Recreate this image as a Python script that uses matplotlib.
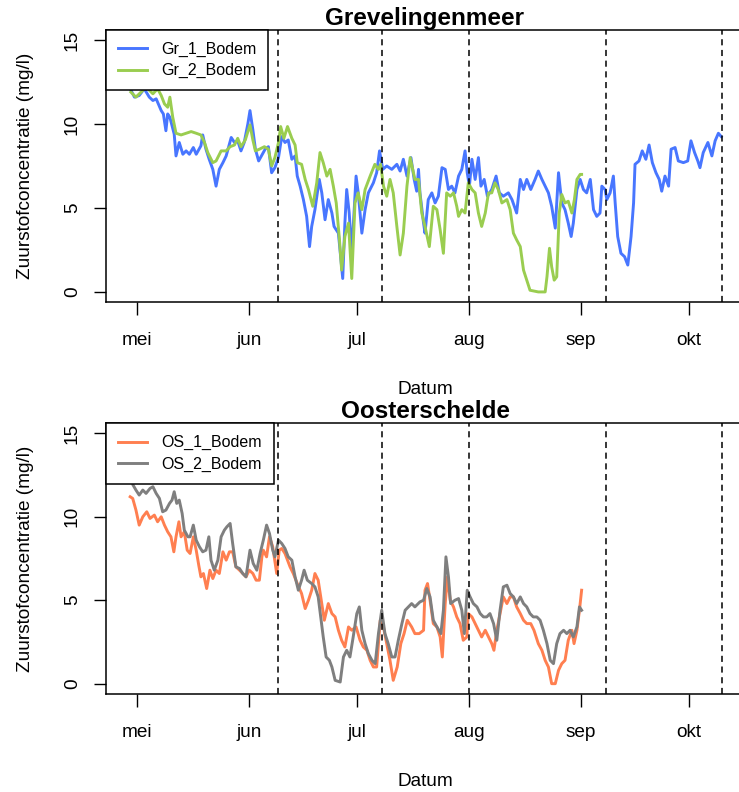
import numpy as np
import matplotlib
matplotlib.use("Agg")
import matplotlib.pyplot as plt

plt.rcParams['font.family'] = ['Liberation Sans', 'DejaVu Sans']

# dagen vanaf 1 mei, zuurstof in mg/l
start = np.datetime64("2021-05-01T00:00")

gr1_dag = [-1.9, -0.7, 0.6, 2.0, 3.4, 4.4, 5.3, 6.7, 7.3, 8.0, 8.5, 9.1, 10.3, 10.8, 11.7, 12.7,
           13.6, 14.5, 15.6, 16.4, 17.7, 18.2, 19.1, 20.0, 21.0, 21.9, 22.8, 23.8, 24.7, 26.1,
           27.0, 27.9, 28.8, 29.7, 30.7, 31.3, 32.1, 32.8, 33.7, 35.5, 36.4, 37.3, 38.2, 39.2,
           40.1, 41.0, 41.9, 42.9, 43.8, 44.4, 45.2, 46.1, 47.0, 47.8, 48.4, 49.3, 50.5, 51.2,
           52.1, 53.0, 54.0, 54.6, 55.8, 57.0, 57.6, 58.1, 58.8, 59.5, 60.7, 61.3, 62.3, 63.2,
           64.1, 65.5, 66.4, 67.2, 68.1, 69.2, 70.6, 72.0, 72.9, 73.8, 74.8, 75.9, 76.8, 77.5,
           78.0, 78.4, 79.4, 79.8, 80.7, 81.7, 82.6, 83.5, 84.5, 85.4, 86.3, 87.2, 88.1, 89.1,
           90.0, 90.9, 91.5, 92.1, 92.8, 93.7, 94.6, 95.3, 96.2, 97.1, 98.3, 99.5, 100.4, 101.5,
           102.9, 103.9, 105.2, 106.2, 107.1, 108.0, 109.1, 110.3, 111.2, 112.2, 113.1, 114.0,
           114.9, 115.9, 116.8, 117.7, 118.6, 119.5, 120.3, 120.9, 121.9, 122.8, 123.7, 124.6,
           125.6, 126.5, 127.4, 128.3, 128.8, 129.7, 130.2, 131.1, 132.0, 132.5, 133.2, 134.1,
           135.1, 136.0, 136.9, 137.6, 138.0, 139.1, 140.0, 141.0, 141.9, 142.8, 143.8, 144.7,
           145.4, 146.3, 147.3, 148.0, 149.1, 150.0, 151.4, 152.6, 153.5, 154.5, 155.4, 156.0,
           156.9, 158.2, 159.3, 160.2, 161.1, 161.9]
gr1_o2 = [12.1, 11.6, 11.7, 12.1, 11.6, 11.4, 11.5, 10.8, 10.6, 9.6, 10.6, 10.4, 9.4, 8.1, 8.9, 8.2,
          8.4, 8.2, 8.6, 8.2, 8.7, 9.35, 8.5, 7.9, 7.3, 6.3, 7.3, 7.7, 8.1, 9.2,
          8.9, 9.0, 8.4, 8.9, 10.0, 10.8, 9.65, 8.5, 7.8, 8.5, 8.65, 7.1, 7.4, 8.0,
          9.25, 8.9, 9.05, 7.9, 8.1, 6.9, 6.3, 5.5, 4.5, 2.7, 3.9, 4.9, 6.7, 5.9,
          4.3, 5.5, 4.7, 3.9, 3.5, 0.8, 4.1, 6.1, 4.7, 2.3, 6.9, 5.9, 3.5, 4.9,
          5.9, 6.5, 7.1, 8.4, 7.3, 7.5, 7.3, 7.6, 7.2, 7.9, 6.9, 8.0, 6.7, 6.0,
          7.3, 5.9, 4.1, 3.5, 5.5, 5.9, 5.3, 5.7, 7.4, 7.3, 6.1, 6.3, 5.9, 6.9,
          7.3, 8.4, 7.1, 6.3, 7.9, 6.7, 8.0, 6.3, 6.7, 5.7, 6.1, 6.9, 5.9, 5.7,
          5.9, 5.5, 4.7, 6.7, 6.1, 6.7, 6.1, 6.7, 7.2, 6.7, 6.3, 5.9,
          5.1, 3.8, 7.1, 5.3, 4.9, 4.1, 3.3, 4.1, 6.1, 6.7, 6.1, 5.9,
          6.7, 4.9, 4.5, 4.7, 6.3, 6.1, 5.5, 5.9, 6.9, 5.3, 3.3, 2.3,
          2.1, 1.6, 3.3, 5.3, 7.6, 7.8, 8.4, 7.9, 8.75, 7.7, 7.1, 6.7,
          6.0, 6.9, 6.3, 8.5, 8.6, 7.8, 7.7, 7.8, 9.0, 8.3, 7.8, 7.4,
          8.3, 8.9, 8.1, 9.0, 9.45, 9.25]

gr2_dag = [-1.7, -0.3, 1.1, 2.5, 4.4, 5.7, 6.7, 7.6, 8.5, 9.1, 9.9, 10.8, 12.2, 13.6, 15.0, 16.4,
           17.7, 18.7, 19.6, 21.0, 21.9, 23.3, 24.7, 25.8, 27.0, 27.9, 28.8, 30.0, 31.3, 32.1,
           32.8, 33.9, 35.3, 36.4, 37.3, 38.2, 39.2, 39.8, 40.7, 41.7, 42.9, 43.8, 44.4, 45.6,
           46.6, 47.5, 48.7, 49.8, 50.7, 51.6, 52.6, 53.5, 54.4, 55.2, 56.1, 56.7, 57.6, 58.6,
           59.5, 60.4, 61.3, 62.3, 63.2, 64.6, 65.9, 66.9, 67.5, 68.3, 69.2, 70.1, 71.0, 72.0,
           72.9, 73.8, 74.8, 75.7, 77.0, 78.0, 78.9, 79.8, 81.0, 82.1, 83.1, 84.0, 84.9, 85.8,
           86.8, 87.7, 88.6, 89.1, 90.0, 90.9, 91.8, 92.8, 93.7, 94.6, 95.5, 96.5, 97.4, 98.3,
           99.2, 100.1, 101.1, 102.5, 103.4, 104.3, 105.2, 106.2, 107.1, 108.0, 108.9, 111.2,
           113.1, 113.6, 114.3, 114.9, 115.6, 116.3, 117.0, 117.7, 118.6, 119.5, 120.5, 121.2,
           121.9, 122.8, 123.2]
gr2_o2 = [11.9, 11.6, 11.9, 12.2, 11.8, 12.1, 11.7, 11.2, 11.0, 11.6, 10.4, 9.45, 9.35, 9.45, 9.55, 9.45,
          9.35, 8.9, 8.3, 7.7, 7.8, 8.4, 8.4, 8.65, 8.75, 9.15, 8.65, 9.05, 9.95, 9.05,
          8.4, 8.5, 8.65, 8.5, 7.5, 8.0, 8.9, 9.85, 9.15, 9.85, 9.15, 8.75, 7.7, 7.6,
          6.7, 6.1, 5.1, 6.5, 8.3, 7.7, 6.9, 7.3, 6.3, 5.3, 3.1, 1.3, 3.3, 4.1,
          0.8, 5.3, 5.9, 4.9, 6.1, 6.9, 7.6, 7.3, 7.6, 6.3, 5.7, 6.7, 5.9, 3.9,
          2.2, 3.5, 6.3, 8.0, 6.7, 6.7, 4.7, 3.9, 2.7, 5.1, 4.9, 3.7, 2.3, 5.9,
          5.7, 5.9, 5.1, 4.5, 4.9, 4.7, 6.5, 6.1, 5.9, 4.7, 3.9, 4.7, 5.9, 5.9,
          6.5, 6.1, 5.3, 5.5, 4.9, 3.5, 3.1, 2.7, 1.3, 0.7, 0.1, 0.0,
          0.0, 0.9, 2.6, 1.5, 0.7, 0.9, 4.7, 5.8, 5.3, 5.4, 4.7, 5.5,
          6.7, 7.0, 7.0]

os1_dag = [-1.9, -1.2, -0.3, 0.6, 1.6, 2.7, 3.6, 4.8, 5.7, 6.7, 7.6, 8.5, 9.4, 10.2, 10.8, 11.6,
           12.2, 13.1, 13.9, 14.7, 15.6, 16.4, 17.1, 17.7, 18.4, 19.3, 20.2, 21.0, 21.9, 22.8,
           23.8, 24.7, 25.6, 26.5, 27.4, 28.4, 29.3, 30.2, 31.1, 32.1, 33.0, 33.9, 34.6, 35.0,
           35.9, 36.7, 37.6, 38.7, 39.4, 40.1, 41.0, 42.4, 43.3, 44.4, 45.6, 46.6, 47.5, 48.4,
           49.3, 50.2, 51.2, 51.9, 53.0, 54.0, 54.9, 55.8, 56.7, 57.6, 58.6, 59.5, 60.7, 61.8,
           62.7, 63.7, 64.6, 65.5, 66.4, 67.4, 68.1, 69.0, 70.1, 71.0, 72.1, 73.1, 74.0, 74.9,
           76.1, 77.0, 78.2, 79.4, 79.8, 80.5, 81.2, 82.1, 83.1, 84.0, 84.6, 85.4, 86.0, 86.8,
           87.7, 88.6, 89.5, 90.4, 91.4, 91.8, 92.8, 93.7, 94.6, 95.5, 96.5, 97.4, 98.3, 98.9,
           99.7, 100.6, 101.5, 102.5, 103.4, 104.3, 105.2, 106.2, 107.1, 108.0, 109.1, 110.0,
           111.2, 112.2, 113.1, 114.0, 114.9, 115.9, 116.8, 117.7, 118.6, 119.5, 120.5, 121.1,
           121.9, 122.6, 123.2]
os1_o2 = [11.2, 11.1, 10.4, 9.5, 10.0, 10.3, 9.9, 10.1, 9.7, 10.0, 9.5, 9.1, 8.8, 7.9, 8.8, 9.7,
          8.8, 9.1, 8.0, 7.8, 8.8, 8.0, 7.1, 6.4, 6.6, 5.7, 6.8, 6.3, 6.8, 6.6,
          7.9, 7.4, 7.9, 7.9, 7.0, 6.8, 6.6, 6.4, 6.8, 6.6, 6.2, 6.2, 7.6, 8.0,
          7.6, 8.8, 8.2, 6.6, 8.0, 8.1, 7.8, 7.0, 6.6, 6.0, 5.4, 4.5, 5.0, 5.6,
          6.6, 6.2, 4.8, 3.8, 4.8, 4.2, 4.0, 3.2, 2.6, 2.2, 3.4, 3.2, 3.4, 2.6,
          2.2, 2.0, 1.4, 1.0, 1.0, 3.8, 3.6, 2.6, 1.4, 0.2, 1.0, 2.4, 3.0, 3.8,
          3.4, 3.0, 3.0, 3.2, 5.6, 6.0, 5.0, 3.6, 3.4, 2.8, 1.6, 4.8, 6.4, 5.0,
          4.6, 4.0, 3.6, 2.6, 2.8, 4.2, 4.0, 3.6, 3.2, 2.8, 3.2, 2.8, 2.4, 2.0,
          3.2, 4.2, 5.2, 4.8, 5.2, 5.2, 4.6, 4.2, 3.8, 3.6, 3.6, 3.2,
          2.4, 2.0, 1.4, 1.0, 0.0, 0.0, 0.8, 1.2, 1.4, 2.6, 3.2, 2.4,
          3.2, 4.4, 5.6]

os2_dag = [-1.1, -0.3, 0.6, 1.6, 2.5, 3.6, 4.4, 5.3, 6.2, 7.1, 8.0, 9.0, 9.7, 10.3, 11.0, 11.7,
           12.5, 13.1, 14.1, 14.7, 15.6, 16.4, 17.3, 18.2, 19.1, 19.9, 20.5, 21.4, 22.4, 23.3,
           24.2, 24.9, 25.8, 26.5, 27.4, 28.4, 29.3, 30.2, 31.3, 32.2, 33.2, 34.1, 35.0, 35.9,
           36.7, 37.6, 38.2, 39.2, 40.1, 41.0, 41.9, 42.9, 43.8, 44.7, 45.6, 46.3, 47.2, 48.4,
           49.3, 50.2, 50.9, 51.6, 52.4, 53.3, 54.0, 54.9, 56.3, 57.2, 58.1, 59.0, 59.9, 60.9,
           61.6, 62.3, 63.2, 64.1, 65.1, 66.0, 66.9, 67.8, 68.7, 69.6, 70.6, 71.5, 72.4, 73.4,
           74.3, 75.2, 76.1, 77.0, 78.4, 79.4, 80.3, 81.2, 82.1, 83.1, 84.2, 84.9, 85.6, 86.3,
           86.9, 88.1, 89.1, 90.0, 90.7, 91.5, 92.3, 93.2, 94.2, 95.1, 96.0, 96.9, 97.8, 98.8,
           99.7, 100.6, 101.5, 102.5, 103.4, 104.3, 105.2, 106.2, 107.1, 108.0, 108.9, 109.8,
           110.8, 111.7, 112.6, 113.6, 114.5, 115.4, 116.3, 117.2, 118.2, 119.1, 120.0, 120.9,
           121.9, 122.6, 123.2]
os2_o2 = [11.9, 11.6, 11.3, 11.6, 11.4, 11.7, 11.8, 11.4, 11.1, 10.3, 10.4, 10.8, 11.0, 11.5, 10.8, 11.0,
          10.2, 9.2, 8.8, 8.8, 9.5, 8.6, 8.2, 7.9, 8.0, 8.8, 7.4, 6.8, 7.4, 8.8,
          9.2, 9.4, 9.6, 8.4, 7.0, 6.9, 6.6, 6.4, 8.0, 7.2, 6.8, 7.8, 8.6, 9.5,
          9.0, 8.0, 7.6, 8.6, 8.4, 8.1, 7.6, 7.4, 6.4, 5.6, 6.2, 6.8, 6.2, 6.0,
          5.8, 5.2, 4.0, 2.8, 1.6, 1.4, 1.0, 0.2, 0.1, 1.6, 2.0, 1.6, 2.8, 4.2,
          4.6, 3.2, 2.4, 1.8, 1.4, 1.2, 3.0, 4.4, 3.0, 2.4, 1.6, 1.6, 2.6, 3.6,
          4.4, 4.6, 4.8, 4.6, 4.9, 5.0, 5.7, 5.2, 3.8, 3.4, 3.0, 4.4, 7.6, 6.4,
          4.8, 5.0, 5.1, 4.4, 3.0, 5.6, 5.2, 4.8, 4.6, 4.2, 4.0, 4.0, 4.2, 3.6,
          2.6, 4.4, 5.8, 5.9, 5.4, 5.2, 4.8, 5.2, 4.8, 4.6, 4.2, 4.0,
          4.0, 3.8, 3.2, 2.4, 1.4, 1.2, 2.4, 3.0, 3.2, 3.0, 3.2, 2.8,
          3.4, 4.6, 4.4]

maand_dag = [0, 31, 61, 92, 123, 153]
maand_naam = ["mei", "jun", "jul", "aug", "sep", "okt"]
grens_dag = [39, 68, 92, 130, 162]
y_ticks = [0, 5, 10, 15]


def datums(dagen):
    return start + (np.array(dagen) * 1440).astype("timedelta64[m]")


fig = plt.figure(figsize=(7.39, 7.92), dpi=100)
ax1 = fig.add_axes([106 / 739, 1 - 302 / 792, (744 - 106) / 739, 272 / 792])
ax2 = fig.add_axes([106 / 739, 1 - 693.7 / 792, (744 - 106) / 739, 270.4 / 792])


def paneel(ax, titel, reeksen):
    for dag, o2, kleur, naam in reeksen:
        ax.plot(datums(dag), o2, color=kleur, lw=2.1, label=naam)
    for g in datums(grens_dag):
        ax.axvline(g, color="black", lw=1.1, ls=(0, (4, 3)))
    ax.set_xlim(datums([-8.6, 168.2]))
    ax.set_ylim(-0.6, 15.6)
    ax.tick_params(direction="out", length=9, width=1, labelsize=13.7)
    ax.tick_params(axis="x", pad=12.5)
    ax.tick_params(axis="y", pad=9)
    ax.set_yticks(y_ticks, labels=[str(t) for t in y_ticks], rotation=90,
                  va="center", ha="right", rotation_mode="default")
    ax.set_xticks(datums(maand_dag), labels=maand_naam)
    ax.spines["right"].set_visible(False)
    for s in ["left", "bottom", "top"]:
        ax.spines[s].set_linewidth(1.1)
    ax.set_xlabel("Datum", fontsize=13.7, labelpad=23)
    ax.set_ylabel("Zuurstofconcentratie (mg/l)", fontsize=13.7, labelpad=21.5)
    ax.set_title(titel, fontsize=17.5, fontweight="bold", pad=0)
    leg = ax.legend(loc="upper left", bbox_to_anchor=(0, 1), borderaxespad=0,
                    fancybox=False, edgecolor="black", framealpha=1, fontsize=11.5,
                    handlelength=1.8, handletextpad=0.9, borderpad=0.75, labelspacing=0.38)
    leg.get_frame().set_linewidth(1.1)


paneel(ax1, "Grevelingenmeer", [(gr1_dag, gr1_o2, "#4876FF", "Gr_1_Bodem"),
                                (gr2_dag, gr2_o2, "#9ACD50", "Gr_2_Bodem")])
paneel(ax2, "Oosterschelde", [(os1_dag, os1_o2, "#FF7F50", "OS_1_Bodem"),
                              (os2_dag, os2_o2, "#7F7F7F", "OS_2_Bodem")])

fig.savefig("out.png", dpi=100)
